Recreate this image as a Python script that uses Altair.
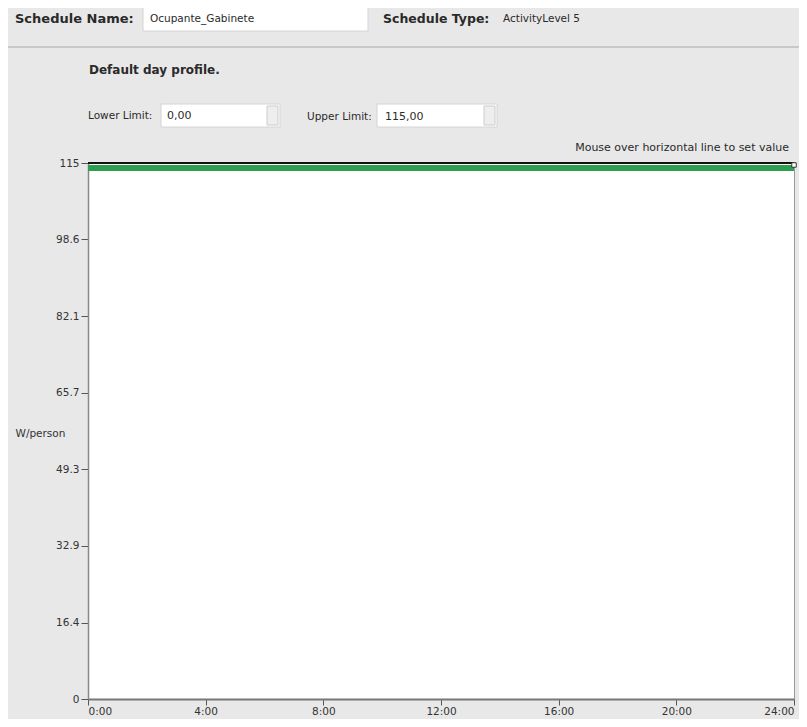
import altair as alt
import pandas as pd

# data
hours = [0, 24]
values = [115, 115]
y_ticks = [0, 16.4, 32.9, 49.3, 65.7, 82.1, 98.6, 115]
x_ticks = [0, 4, 8, 12, 16, 20, 24]

schedule_name = "Ocupante_Gabinete"
schedule_type = "ActivityLevel 5"
lower_limit = "0,00"
upper_limit = "115,00"

df = pd.DataFrame({"hour": hours, "value": values})

FONT = "DejaVu Sans"
BG = "#e8e8e8"
OX, OY = 88, 163  # plot origin in page coords


def one():
    return alt.Chart(alt.Data(values=[{}]))


def txt(x, y, s, size=10, bold=False, align="left", color="#2a2a2a"):
    return one().mark_text(
        align=align, baseline="middle", font=FONT, fontSize=size,
        fontWeight="bold" if bold else "normal", color=color
    ).encode(x=alt.value(x - OX), y=alt.value(y - OY), text=alt.value(s))


def box(x1, y1, x2, y2, fill="white", stroke="#d4d4d4"):
    return one().mark_rect(fill=fill, stroke=stroke, strokeWidth=1).encode(
        x=alt.value(x1 - OX), x2=alt.value(x2 - OX),
        y=alt.value(y1 - OY), y2=alt.value(y2 - OY))


def hline(x1, x2, y, color="#c8c8c8", w=2):
    return one().mark_rule(color=color, strokeWidth=w).encode(
        x=alt.value(x1 - OX), x2=alt.value(x2 - OX), y=alt.value(y - OY))


x_enc = alt.X("hour:Q", scale=alt.Scale(domain=[0, 24], nice=False),
              axis=alt.Axis(values=x_ticks, labelExpr="datum.value + ':00'",
                            title=None, grid=False, domainColor="#777",
                            domainWidth=2, tickColor="#555", tickSize=6,
                            labelFont=FONT, labelFontSize=10.5,
                            labelColor="#333", labelPadding=1))
y_enc = alt.Y("value:Q", scale=alt.Scale(domain=[0, 115], nice=False, zero=True),
              axis=alt.Axis(values=y_ticks, labelExpr="'' + datum.value",
                            title="W/person",
                            titleAngle=0, titleX=-73, titleY=270,
                            titleAlign="left", titleBaseline="middle",
                            titleFont=FONT, titleFontSize=10.5,
                            titleFontWeight="normal", titleColor="#333",
                            grid=False, domainColor="#888", domainWidth=1.5,
                            tickColor="#555", tickSize=7, labelFont=FONT,
                            labelFontSize=10.5, labelColor="#333",
                            labelPadding=2, labelFlush=False))

profile = alt.Chart(df).mark_line(color="#2e9e50", strokeWidth=6, yOffset=5,
                                  clip=False).encode(x=x_enc, y=y_enc)
top_border = alt.Chart(df).mark_line(color="#111", strokeWidth=2).encode(
    x="hour:Q", y="value:Q")
handle = alt.Chart(df).transform_filter("datum.hour == 24").mark_square(
    size=20, fill="white", stroke="#333", strokeWidth=1, opacity=1,
    yOffset=2).encode(x="hour:Q", y="value:Q")

chart = alt.layer(
    profile,
    top_border,
    handle,
    # header
    txt(15, 19, "Schedule Name:", size=13, bold=True),
    box(143, 7, 368, 31),
    txt(150, 19, schedule_name, size=10.5),
    txt(383, 19, "Schedule Type:", size=12.5, bold=True),
    txt(503, 19, schedule_type, size=10.5),
    hline(8, 807, 47),
    txt(89, 70, "Default day profile.", size=12, bold=True),
    txt(88, 116, "Lower Limit:", size=10.5),
    box(161, 104, 280, 127),
    txt(167, 116, lower_limit, size=11),
    box(267, 106, 278, 125, fill="#eeeeee", stroke="#cccccc"),
    txt(307, 117, "Upper Limit:", size=10.5),
    box(377, 104, 497, 127),
    txt(385, 117, upper_limit, size=11),
    box(484, 106, 495, 125, fill="#eeeeee", stroke="#cccccc"),
    txt(789, 148, "Mouse over horizontal line to set value", size=11,
        align="right"),
).properties(
    width=706, height=536, background=BG,
    padding={"left": 80, "top": 155, "right": 5, "bottom": 20},
    autosize=alt.AutoSizeParams(type="none"),
).configure_view(fill="white", stroke="#999", strokeWidth=1)

chart.save("out.html", embed_options={"renderer": "svg", "actions": False})
